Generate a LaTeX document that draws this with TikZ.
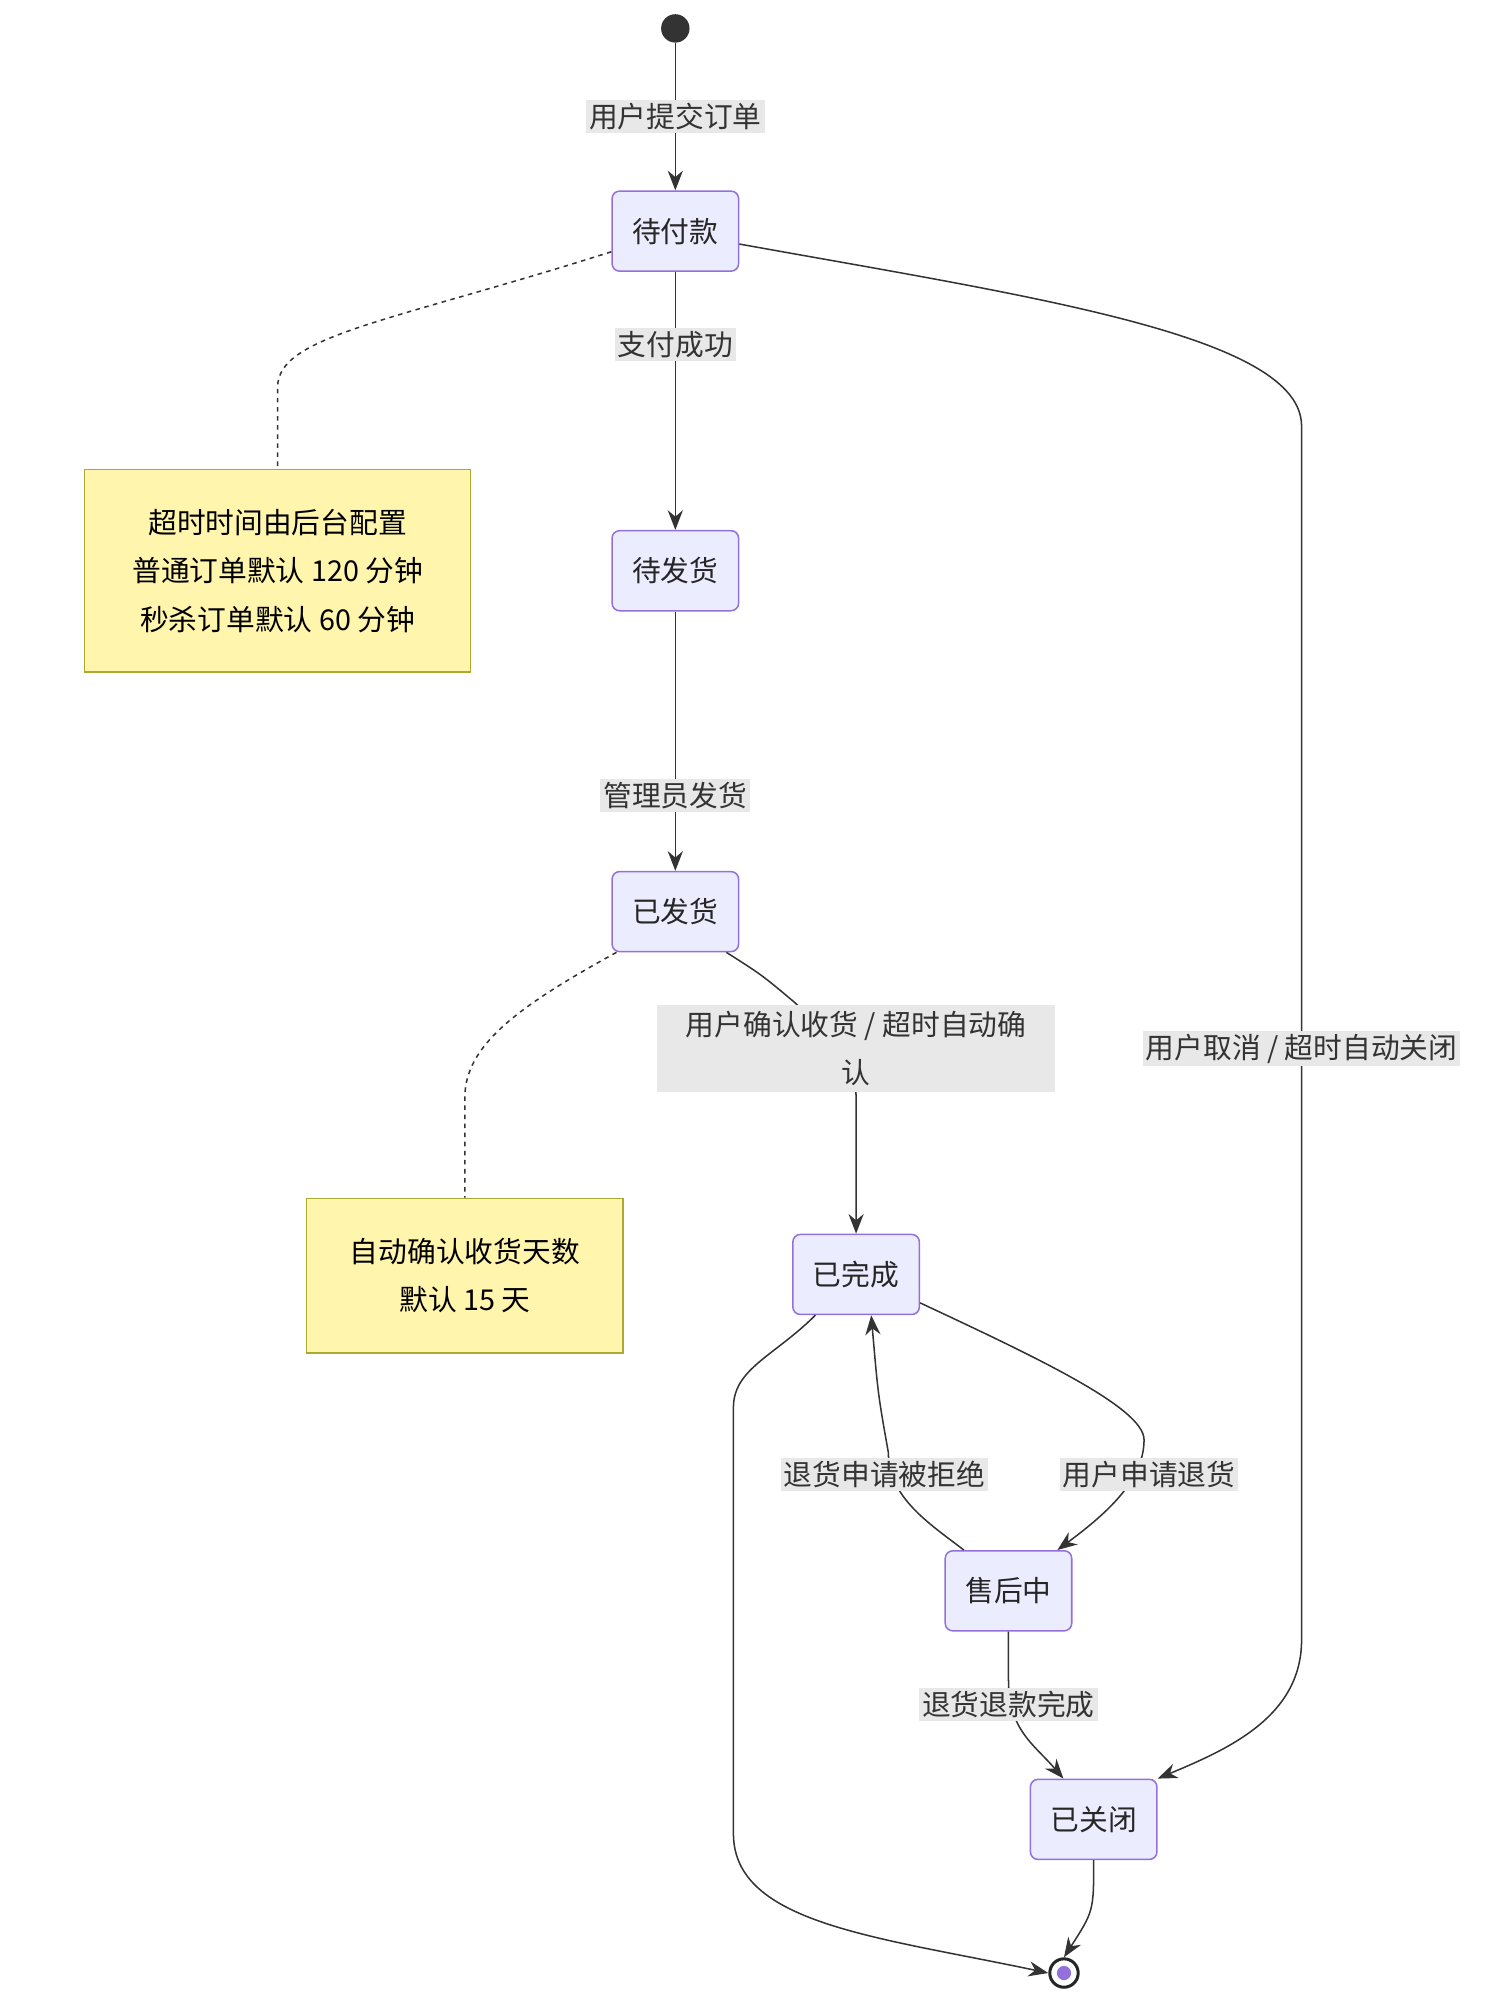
\documentclass[tikz,border=0pt]{standalone}
\usepackage{fontspec}
\setmainfont{Noto Sans CJK SC}
\usetikzlibrary{arrows.meta}
\begin{document}
\begin{tikzpicture}[x=0.03cm,y=-0.03cm,
  st/.style={draw=mmline,fill=mmfill,rounded corners=5pt,line width=1pt,minimum width=98*0.03cm,minimum height=62*0.03cm,font=\fontsize{19}{24}\selectfont,text=black!85},
  note/.style={draw=notebd,fill=notefill,line width=1pt,align=center,font=\fontsize{19}{32}\selectfont},
  lbl/.style={fill=lblbg,inner sep=2pt,font=\fontsize{19}{32}\selectfont,text=black!80,align=center},
  ed/.style={draw=black!80,line width=1pt,-{Stealth[length=13pt,width=10pt]}},
  dn/.style={draw=black!80,line width=1pt,dashed}]
\definecolor{mmline}{HTML}{9370DB}
\definecolor{mmfill}{HTML}{ECECFF}
\definecolor{notebd}{HTML}{AAAA33}
\definecolor{notefill}{HTML}{FFF5AD}
\definecolor{lblbg}{HTML}{E8E8E8}
\useasboundingbox (0,0) rectangle (1160,1552);
\node[circle,fill=black!80,minimum size=22*0.03cm,inner sep=0] (start) at (523,22) {};
\node[st] (a) at (523,179) {待付款};
\node[st] (b) at (523,442) {待发货};
\node[st] (c) at (523,706) {已发货};
\node[st] (d) at (663,987) {已完成};
\node[st] (e) at (781,1232) {售后中};
\node[st] (f) at (847,1409) {已关闭};
\node[circle,draw=black!85,line width=2pt,fill=white,minimum size=22*0.03cm,inner sep=0] (end) at (824,1528) {};
\fill[mmline] (end) circle (5.5*0.03cm);
\node[note,minimum width=299*0.03cm,minimum height=157*0.03cm] (n1) at (215,442) {超时时间由后台配置\\普通订单默认 120 分钟\\秒杀订单默认 60 分钟};
\node[note,minimum width=245*0.03cm,minimum height=120*0.03cm] (n2) at (360,988) {自动确认收货天数\\默认 15 天};
% edges
\draw[ed] (start) -- (a);
\draw[ed] (a) -- (b);
\draw[ed] (b) -- (c);
\coordinate (c1) at (615,776);
\coordinate (c2) at (663,860);
\draw[ed] (c.south east) ++(-10,0) .. controls (590,755) .. (c1) .. controls (663,820) .. (c2) -- (d.north);
\coordinate (r1) at (1008,330);
\coordinate (r2) at (1008,1270);
\draw[ed] (a.east) ++(0,10) .. controls (800,230) and (1008,260) .. (r1) -- (r2) .. controls (1008,1330) and (950,1355) .. (f.north east);
\coordinate (s1) at (886,1115);
\draw[ed] (d.east) ++(0,22) .. controls (800,1050) and (886,1090) .. (s1) .. controls (886,1145) and (860,1170) .. ([xshift=-10pt]e.north east);
\coordinate (s2) at (688,1125);
\draw[ed] (e.north west) ++(15,0) .. controls (720,1180) and (688,1160) .. (s2) .. controls (680,1080) .. ([xshift=10pt]d.south);
\coordinate (t1) at (781,1300);
\draw[ed] (e.south) -- (t1) .. controls (781,1340) and (800,1350) .. ([xshift=-20pt]f.north);
\coordinate (u1) at (568,1090);
\coordinate (u2) at (568,1420);
\draw[ed] (d.south west) ++(18,0) .. controls (600,1050) and (568,1060) .. (u1) -- (u2) .. controls (568,1490) and (680,1500) .. (end.west);
\draw[ed] (f.south) .. controls (847,1480) .. (end.north);
\coordinate (v1) at (215,300);
\draw[dn] (a.west) ++(0,16) .. controls (300,250) and (215,260) .. (v1) -- (n1.north);
\coordinate (v2) at (360,850);
\draw[dn] (c.south west) ++(4,0) .. controls (400,780) and (360,810) .. (v2) -- (n2.north);
% labels
\node[lbl] at (523,90) {用户提交订单};
\node[lbl] at (523,267) {支付成功};
\node[lbl] at (523,616) {管理员发货};
\node[lbl,minimum width=308*0.03cm,inner ysep=4pt] at (663,812) {用户确认收货 / 超时自动确\\认};
\node[lbl] at (1008,812) {用户取消 / 超时自动关闭};
\node[lbl] at (685,1142) {退货申请被拒绝};
\node[lbl] at (890,1142) {用户申请退货};
\node[lbl] at (781,1320) {退货退款完成};
\end{tikzpicture}
\end{document}
